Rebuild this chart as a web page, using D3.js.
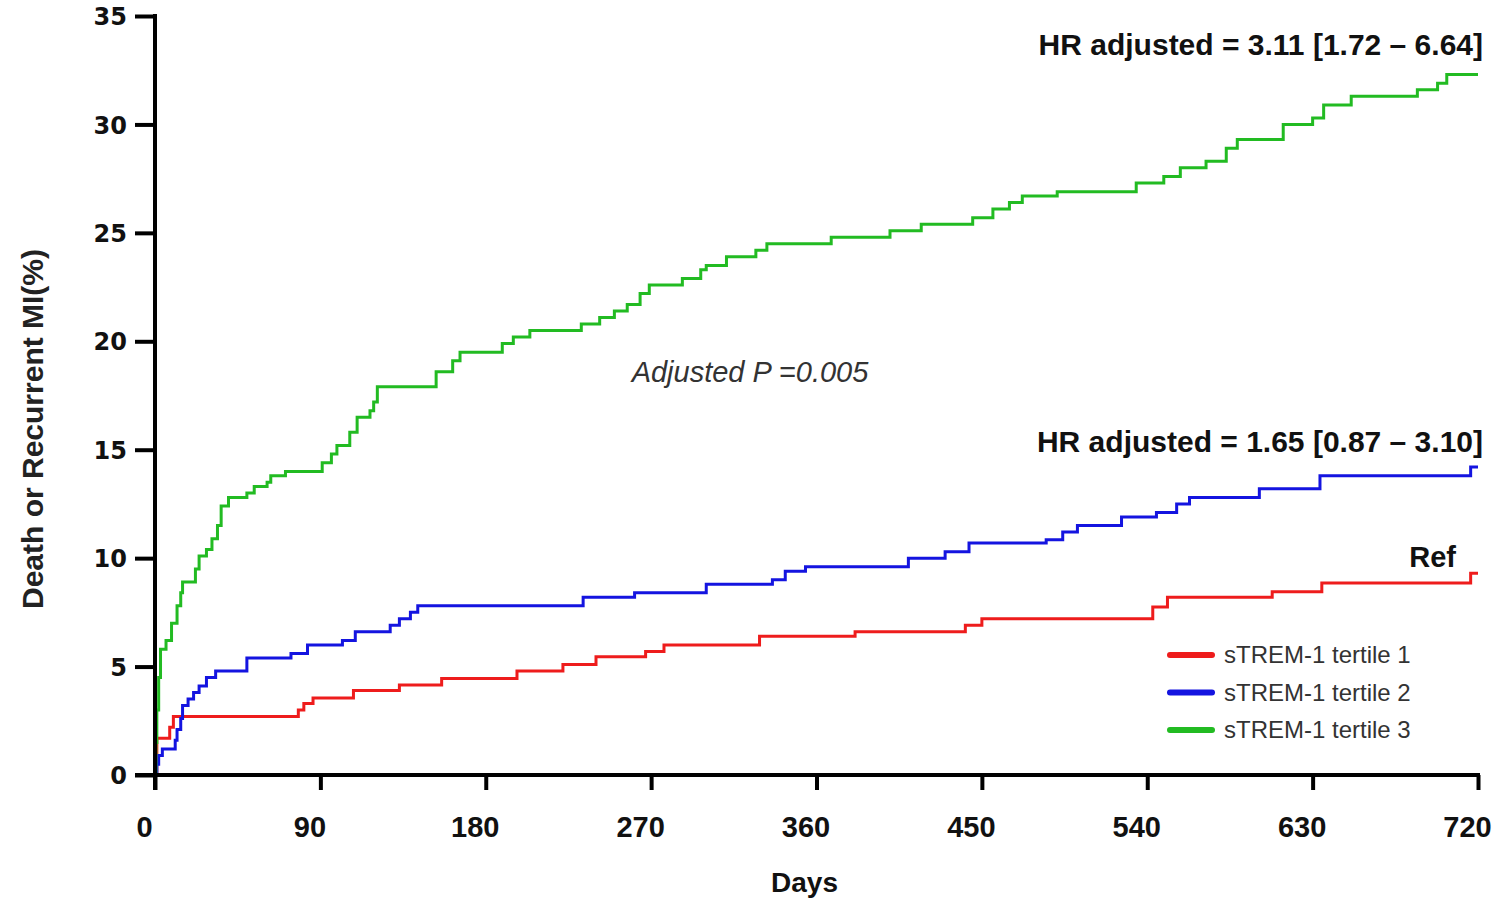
<!DOCTYPE html>
<html>
<head>
<meta charset="utf-8">
<script src="https://cdn.jsdelivr.net/npm/d3@7"></script>
<style>
  body { margin: 0; background: #fff; }
  svg { display: block; }
</style>
</head>
<body>
<svg id="chart" width="1497" height="898"></svg>
<script>
// step points (day, cumulative %)
var t1Days = [0, 1, 8, 10, 78, 81, 86, 108, 133, 156, 197, 222, 240, 267, 277, 329, 381, 441, 450, 543, 551, 608, 635, 716, 720];
var t1Risk = [0, 1.7, 2.2, 2.7, 3.0, 3.3, 3.55, 3.9, 4.15, 4.45, 4.8, 5.1, 5.45, 5.7, 6.0, 6.4, 6.6, 6.9, 7.2, 7.75, 8.2, 8.45, 8.85, 9.3, 9.3];

var t2Days = [0, 1, 2, 4, 11, 12, 14, 15, 18, 21, 24, 28, 33, 50, 74, 83, 102, 109, 128, 133, 139, 143, 233, 261, 300, 336, 343, 354, 410, 430, 443, 485, 494, 502, 526, 545, 556, 563, 601, 634, 716, 720];
var t2Risk = [0, 0.5, 0.9, 1.2, 1.6, 2.1, 2.6, 3.2, 3.5, 3.8, 4.1, 4.5, 4.8, 5.4, 5.6, 6.0, 6.2, 6.6, 6.9, 7.2, 7.5, 7.8, 8.2, 8.4, 8.8, 9.0, 9.4, 9.6, 10.0, 10.3, 10.7, 10.85, 11.2, 11.5, 11.9, 12.1, 12.5, 12.8, 13.2, 13.8, 14.2, 14.2];

var t3Days = [0, 0.5, 1, 2, 3, 6, 9, 12, 14, 15, 22, 24, 28, 31, 34, 36, 40, 50, 54, 61, 63, 71, 91, 96, 99, 106, 110, 117, 119, 121, 153, 162, 166, 189, 195, 204, 232, 242, 250, 257, 264, 269, 287, 297, 300, 311, 327, 333, 368, 400, 417, 445, 456, 465, 472, 491, 534, 549, 558, 572, 583, 589, 614, 630, 636, 651, 687, 698, 703, 720];
var t3Risk = [0, 1.5, 3.0, 4.5, 5.8, 6.2, 7.0, 7.8, 8.4, 8.9, 9.5, 10.1, 10.4, 10.9, 11.5, 12.4, 12.8, 13.0, 13.3, 13.5, 13.8, 14.0, 14.4, 14.8, 15.2, 15.8, 16.5, 16.8, 17.2, 17.9, 18.6, 19.1, 19.5, 19.9, 20.2, 20.5, 20.8, 21.1, 21.4, 21.7, 22.2, 22.6, 22.9, 23.3, 23.5, 23.9, 24.2, 24.5, 24.8, 25.1, 25.4, 25.7, 26.1, 26.4, 26.7, 26.9, 27.3, 27.6, 28.0, 28.3, 28.9, 29.3, 30.0, 30.3, 30.9, 31.3, 31.6, 31.9, 32.3, 32.3];

var seriesNames = ["sTREM-1 tertile 1", "sTREM-1 tertile 2", "sTREM-1 tertile 3"];
var seriesColors = ["#ee1c1c", "#1414e0", "#22bb22"];
var xTicks = [0, 90, 180, 270, 360, 450, 540, 630, 720];
var yTicks = [0, 5, 10, 15, 20, 25, 30, 35];

var series = [
    { name: seriesNames[0], color: seriesColors[0], pts: d3.zip(t1Days, t1Risk) },
    { name: seriesNames[1], color: seriesColors[1], pts: d3.zip(t2Days, t2Risk) },
    { name: seriesNames[2], color: seriesColors[2], pts: d3.zip(t3Days, t3Risk) }
];

var margin = {top: 16, right: 19, bottom: 123, left: 155},
    width = 1497 - margin.left - margin.right,
    height = 898 - margin.top - margin.bottom;

var svg = d3.select("#chart");
var g = svg.append("g")
    .attr("transform", "translate(" + margin.left + "," + margin.top + ")");

var x = d3.scaleLinear().domain([0, 720]).range([0, width]);
var y = d3.scaleLinear().domain([0, 35]).range([height, 0]);

// curves
var line = d3.line()
    .x(function(d) { return x(d[0]); })
    .y(function(d) { return y(d[1]); })
    .curve(d3.curveStepAfter);

g.selectAll(".km")
    .data(series)
  .enter().append("path")
    .attr("class", "km")
    .attr("fill", "none")
    .attr("stroke", function(d) { return d.color; })
    .attr("stroke-width", 3)
    .attr("d", function(d) { return line(d.pts); });

// axes
var xAxis = g.append("g")
    .attr("transform", "translate(0," + height + ")")
    .call(d3.axisBottom(x).tickValues(xTicks).tickSize(15).tickSizeOuter(0));
xAxis.select(".domain").remove();
xAxis.selectAll(".tick line").attr("stroke", "#000").attr("stroke-width", 4);
xAxis.selectAll(".tick text")
    .attr("x", -11)
    .attr("y", 62)
    .attr("dy", 0)
    .attr("fill", "#111")
    .style("font-family", "'Liberation Sans', Arial, sans-serif")
    .style("font-weight", "bold")
    .style("font-size", "29px");

var yAxis = g.append("g")
    .call(d3.axisLeft(y).tickValues(yTicks).tickSize(20).tickSizeOuter(0));
yAxis.select(".domain").remove();
yAxis.selectAll(".tick line").attr("stroke", "#000").attr("stroke-width", 4);
yAxis.selectAll(".tick text")
    .attr("x", -28)
    .attr("dy", "0.36em")
    .attr("fill", "#111")
    .style("font-family", "'DejaVu Sans', sans-serif")
    .style("font-weight", "bold")
    .style("font-size", "24px");

g.append("line")
    .attr("x1", -20).attr("x2", x(720) + 2)
    .attr("y1", height).attr("y2", height)
    .attr("stroke", "#000").attr("stroke-width", 4);
g.append("line")
    .attr("x1", 0).attr("x2", 0)
    .attr("y1", y(35) - 2).attr("y2", height + 15)
    .attr("stroke", "#000").attr("stroke-width", 4);

// axis titles
svg.append("text")
    .attr("x", margin.left + x(360) - 12)
    .attr("y", 892)
    .attr("text-anchor", "middle")
    .attr("fill", "#111")
    .style("font-family", "'Liberation Sans', Arial, sans-serif")
    .style("font-weight", "bold")
    .style("font-size", "28px")
    .text("Days");

svg.append("text")
    .attr("transform", "translate(43,429) rotate(-90)")
    .attr("text-anchor", "middle")
    .attr("fill", "#222")
    .style("font-family", "'Liberation Sans', Arial, sans-serif")
    .style("font-weight", "bold")
    .style("font-size", "30px")
    .text("Death or Recurrent MI(%)");

// annotations
var boldFont = "'Liberation Sans', Arial, sans-serif";
svg.append("text")
    .attr("x", 1483).attr("y", 55)
    .attr("text-anchor", "end")
    .attr("fill", "#111")
    .style("font-family", boldFont).style("font-weight", "bold").style("font-size", "30px")
    .text("HR adjusted = 3.11 [1.72 \u2013 6.64]");
svg.append("text")
    .attr("x", 1483).attr("y", 452)
    .attr("text-anchor", "end")
    .attr("fill", "#111")
    .style("font-family", boldFont).style("font-weight", "bold").style("font-size", "30px")
    .text("HR adjusted = 1.65 [0.87 \u2013 3.10]");
svg.append("text")
    .attr("x", 1456).attr("y", 567)
    .attr("text-anchor", "end")
    .attr("fill", "#111")
    .style("font-family", boldFont).style("font-weight", "bold").style("font-size", "29px")
    .text("Ref");
svg.append("text")
    .attr("x", 750).attr("y", 382)
    .attr("text-anchor", "middle")
    .attr("fill", "#333")
    .style("font-family", boldFont).style("font-style", "italic").style("font-size", "29px")
    .text("Adjusted P =0.005");

// legend
var legend = svg.selectAll(".legend")
    .data(series)
  .enter().append("g")
    .attr("class", "legend")
    .attr("transform", function(d, i) { return "translate(1170," + (655 + i * 37.5) + ")"; });
legend.append("line")
    .attr("x1", 0).attr("x2", 42)
    .attr("stroke", function(d) { return d.color; })
    .attr("stroke-width", 6)
    .attr("stroke-linecap", "round");
legend.append("text")
    .attr("x", 54)
    .attr("dy", "0.35em")
    .attr("fill", "#333")
    .style("font-family", boldFont)
    .style("font-size", "24px")
    .text(function(d) { return d.name; });
</script>
</body>
</html>
